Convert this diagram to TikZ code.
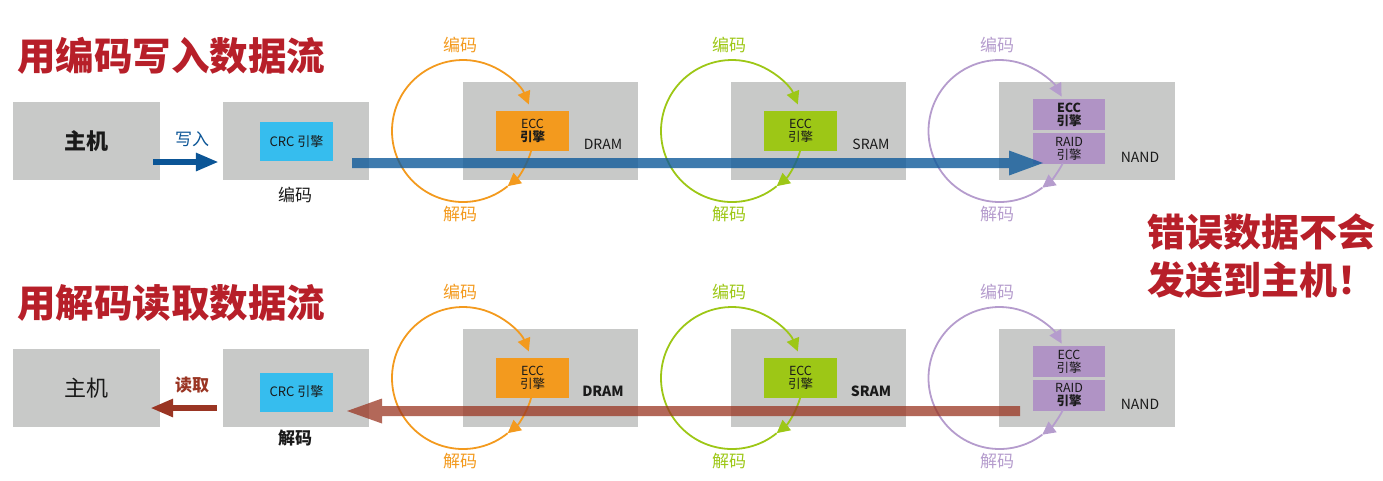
\documentclass[tikz,border=0pt]{standalone}
\usepackage{fontspec}
\setmainfont{Noto Sans CJK SC}
\usetikzlibrary{arrows.meta,calc}
\definecolor{boxgrey}{HTML}{C8C9C8}
\definecolor{titlered}{HTML}{B71F29}
\definecolor{crcblue}{HTML}{36BDEE}
\definecolor{orangec}{HTML}{F39A1E}
\definecolor{greenc}{HTML}{9DC716}
\definecolor{purplebox}{HTML}{B093C5}
\definecolor{purplec}{HTML}{B59CCD}
\definecolor{writeblue}{HTML}{0B5596}
\definecolor{readred}{HTML}{9A3523}
\definecolor{barblue}{HTML}{0F5A9A}
\definecolor{barred}{HTML}{9A3522}
\definecolor{txt}{HTML}{1A1A1A}
\begin{document}
\begin{tikzpicture}[x=1pt,y=-1pt,
  gbox/.style={fill=boxgrey, inner sep=0pt, text=txt},
  eng/.style={inner sep=0pt, align=center, text=txt, font=\fontsize{12.5}{13}\selectfont},
  lbl/.style={inner sep=0pt, text=txt},
  title/.style={inner sep=0pt, anchor=west, text=titlered, font=\bfseries\fontsize{38.5}{38.5}\selectfont},
  cyclbl/.style={inner sep=0pt, font=\fontsize{17}{17}\selectfont},
  memlbl/.style={inner sep=0pt, text=txt, font=\fontsize{14}{14}\selectfont},
  arcln/.style={line width=1.8pt},
  tip/.style={-{Triangle[length=13pt,width=13pt]}}
]
\useasboundingbox (0,0) rectangle (1383,480);

% ================= Row 1 =================
\node[title] (t1) at (17,56) {用编码写入数据流};
\node[gbox, minimum width=147pt, minimum height=78pt, font=\bfseries\fontsize{22}{22}\selectfont] (host1) at (86.5,141) {主机};
\node[gbox, minimum width=146pt, minimum height=78pt] (crcbox1) at (296,141) {};
\node[eng, fill=crcblue, minimum width=73pt, minimum height=39pt, font=\fontsize{13}{13}\selectfont] (crc1) at (296.5,141.5) {CRC 引擎};
\node[lbl, font=\fontsize{17}{17}\selectfont] (enc1) at (295,195) {编码};
\node[lbl, text=writeblue, font=\fontsize{17}{17}\selectfont] (wr1) at (192,139) {写入};
\draw[writeblue, line width=6pt, -{Triangle[length=23pt,width=17pt]}] ($(host1.east)+(-7,21)$) -- ($(crcbox1.west)+(-4,21)$);

\node[gbox, minimum width=175pt, minimum height=98pt] (dram1) at (550.5,131) {};
\node[eng, fill=orangec, minimum width=73pt, minimum height=40pt] (ecca1) at (532.5,131) {ECC\\\textbf{引擎}};
\node[memlbl] (dl1) at (603,144) {DRAM};

\node[gbox, minimum width=175pt, minimum height=98pt] (sram1) at (818.5,131) {};
\node[eng, fill=greenc, minimum width=73pt, minimum height=40pt] (eccb1) at (800.5,131) {ECC\\引擎};
\node[memlbl] (sl1) at (871,144) {SRAM};

\node[gbox, minimum width=176pt, minimum height=98pt] (nand1) at (1087,131) {};
\node[eng, fill=purplebox, minimum width=72pt, minimum height=31pt, font=\bfseries\fontsize{12.5}{13}\selectfont] (eccc1) at (1069,114.5) {ECC\\引擎};
\node[eng, fill=purplebox, minimum width=72pt, minimum height=31pt] (raid1) at (1069,148.5) {RAID\\引擎};
\node[memlbl] (nl1) at (1140,157) {NAND};

\coordinate (oc1) at (463,131);
\draw[arcln, orangec, tip] ($(oc1)+(16:71)$) arc[start angle=16, end angle=51, radius=71];
\draw[arcln, orangec, tip] ($(oc1)+(51:71)$) arc[start angle=51, end angle=338, radius=71];
\node[cyclbl, text=orangec] (oe1) at (460,45) {编码};
\node[cyclbl, text=orangec] (od1) at (460,214) {解码};

\coordinate (gc1) at (732,131);
\draw[arcln, greenc, tip] ($(gc1)+(16:71)$) arc[start angle=16, end angle=51, radius=71];
\draw[arcln, greenc, tip] ($(gc1)+(51:71)$) arc[start angle=51, end angle=338, radius=71];
\node[cyclbl, text=greenc] (ge1) at (729,45) {编码};
\node[cyclbl, text=greenc] (gd1) at (729,214) {解码};

\coordinate (pc1) at (999.5,131);
\draw[arcln, purplec, tip] ($(pc1)+(27:71)$) arc[start angle=27, end angle=53, radius=71];
\draw[arcln, purplec, tip] ($(pc1)+(53:71)$) arc[start angle=53, end angle=331, radius=71];
\node[cyclbl, text=purplec] (pe1) at (997,45) {编码};
\node[cyclbl, text=purplec] (pd1) at (997,214) {解码};

\coordinate (bs1) at (352,163);
\coordinate (be1) at (1043,163);
\fill[barblue, fill opacity=0.8] ($(bs1)+(0,-5)$) -- ($(be1)+(-34,-5)$) -- ($(be1)+(-34,-12.5)$) -- (be1) -- ($(be1)+(-34,12.5)$) -- ($(be1)+(-34,5)$) -- ($(bs1)+(0,5)$) -- cycle;

% ================= Row 2 =================
\node[title] (t2) at (17,303) {用解码读取数据流};
\node[gbox, minimum width=147pt, minimum height=78pt, font=\fontsize{22}{22}\selectfont] (host2) at (86.5,388) {主机};
\node[gbox, minimum width=146pt, minimum height=78pt] (crcbox2) at (296,388) {};
\node[eng, fill=crcblue, minimum width=73pt, minimum height=39pt, font=\fontsize{13}{13}\selectfont] (crc2) at (296.5,392) {CRC 引擎};
\node[lbl, font=\bfseries\fontsize{17}{17}\selectfont] (dec2) at (295,438) {解码};
\node[lbl, text=readred, font=\bfseries\fontsize{17}{17}\selectfont] (rd2) at (192,385) {读取};
\draw[readred, line width=6pt, -{Triangle[length=23pt,width=17pt]}] ($(crcbox2.west)+(-6,20)$) -- ($(host2.east)+(-10,20)$);

\node[gbox, minimum width=175pt, minimum height=98pt] (dram2) at (550.5,378) {};
\node[eng, fill=orangec, minimum width=73pt, minimum height=40pt] (ecca2) at (532.5,378) {ECC\\引擎};
\node[memlbl, font=\bfseries\fontsize{14}{14}\selectfont] (dl2) at (603,391) {DRAM};

\node[gbox, minimum width=175pt, minimum height=98pt] (sram2) at (818.5,378) {};
\node[eng, fill=greenc, minimum width=73pt, minimum height=40pt] (eccb2) at (800.5,378) {ECC\\引擎};
\node[memlbl, font=\bfseries\fontsize{14}{14}\selectfont] (sl2) at (871,391) {SRAM};

\node[gbox, minimum width=176pt, minimum height=98pt] (nand2) at (1087,378) {};
\node[eng, fill=purplebox, minimum width=72pt, minimum height=31pt] (eccc2) at (1069,361.5) {ECC\\引擎};
\node[eng, fill=purplebox, minimum width=72pt, minimum height=31pt] (raid2) at (1069,395.5) {RAID\\\textbf{引擎}};
\node[memlbl] (nl2) at (1140,404) {NAND};

\coordinate (oc2) at (463,378);
\draw[arcln, orangec, tip] ($(oc2)+(16:71)$) arc[start angle=16, end angle=51, radius=71];
\draw[arcln, orangec, tip] ($(oc2)+(51:71)$) arc[start angle=51, end angle=338, radius=71];
\node[cyclbl, text=orangec] (oe2) at (460,292) {编码};
\node[cyclbl, text=orangec] (od2) at (460,461) {解码};

\coordinate (gc2) at (732,378);
\draw[arcln, greenc, tip] ($(gc2)+(16:71)$) arc[start angle=16, end angle=51, radius=71];
\draw[arcln, greenc, tip] ($(gc2)+(51:71)$) arc[start angle=51, end angle=338, radius=71];
\node[cyclbl, text=greenc] (ge2) at (729,292) {编码};
\node[cyclbl, text=greenc] (gd2) at (729,461) {解码};

\coordinate (pc2) at (999.5,378);
\draw[arcln, purplec, tip] ($(pc2)+(27:71)$) arc[start angle=27, end angle=53, radius=71];
\draw[arcln, purplec, tip] ($(pc2)+(53:71)$) arc[start angle=53, end angle=331, radius=71];
\node[cyclbl, text=purplec] (pe2) at (997,292) {编码};
\node[cyclbl, text=purplec] (pd2) at (997,461) {解码};

\coordinate (bs2) at (1020,411);
\coordinate (be2) at (347,411);
\fill[barred, fill opacity=0.75] ($(bs2)+(0,-5)$) -- ($(be2)+(35,-5)$) -- ($(be2)+(35,-12.5)$) -- (be2) -- ($(be2)+(35,12.5)$) -- ($(be2)+(35,5)$) -- ($(bs2)+(0,5)$) -- cycle;

% ================= Warning =================
\node[inner sep=0pt, anchor=west, align=left, text=titlered, font=\bfseries\fontsize{38}{48}\selectfont] (warn) at (1147,256) {错误数据不会\\发送到主机！};
\end{tikzpicture}
\end{document}
